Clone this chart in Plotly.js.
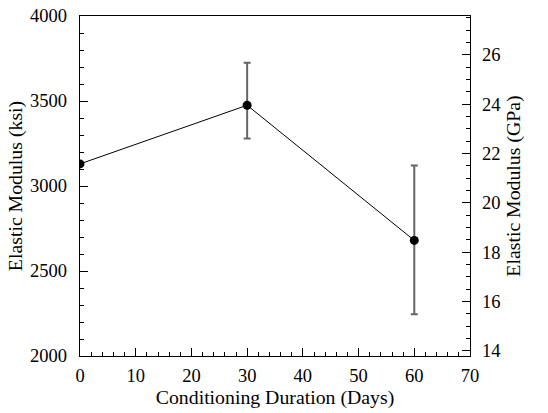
<!DOCTYPE html>
<html>
<head>
<meta charset="utf-8">
<script src="https://cdn.plot.ly/plotly-3.0.1.min.js"></script>
<style>html,body{margin:0;padding:0;background:#fff;}#chart{width:548px;height:413px;}</style>
</head>
<body>
<div id="chart"></div>
<script>
// Data
const days = [0, 30, 60];
const modulusKsi = [3130, 3475, 2680];
const errPlusKsi = [0, 250, 440];
const errMinusKsi = [0, 195, 435];
const ksiToGPa = 0.006894757;
const ksiRange = [2000, 4000];
const xTickVals = [0, 10, 20, 30, 40, 50, 60, 70];

const fam = '"Liberation Serif", "Times New Roman", serif';
const font = {family: fam, size: 18.5, color: '#000'};
const titleFont = {family: fam, size: 19.8, color: '#000'};

const traces = [
  {
    x: days, y: modulusKsi, type: 'scatter', mode: 'lines+markers',
    line: {color: '#000', width: 1},
    marker: {color: '#000', size: 9},
    error_y: {type: 'data', symmetric: false, array: errPlusKsi, arrayminus: errMinusKsi,
              color: '#666', thickness: 2, width: 3.5},
    hoverinfo: 'x+y', showlegend: false
  },
  {
    x: days, y: modulusKsi.map(v => v * ksiToGPa), yaxis: 'y2', type: 'scatter', mode: 'markers',
    marker: {opacity: 0, size: 1}, hoverinfo: 'skip', showlegend: false
  }
];

const layout = {
  width: 548, height: 413,
  margin: {l: 80, r: 78, t: 16, b: 57},
  paper_bgcolor: '#fff', plot_bgcolor: '#fff',
  font: font,
  showlegend: false,
  xaxis: {
    range: [0, 70], tickvals: xTickVals, ticks: 'inside', ticklen: 8, tickwidth: 1, tickcolor: '#000',
    minor: {dtick: 2, ticks: 'inside', ticklen: 4, tickcolor: '#000', showgrid: false},
    showgrid: false, zeroline: false, showline: true, linecolor: '#000', linewidth: 1.2, mirror: true,
    tickfont: font, ticklabelstandoff: 3,
    title: {text: 'Conditioning Duration (Days)', font: titleFont, standoff: 3}
  },
  yaxis: {
    range: ksiRange, dtick: 500, ticks: 'inside', ticklen: 8, tickwidth: 1, tickcolor: '#000',
    minor: {dtick: 100, ticks: 'inside', ticklen: 4, tickcolor: '#000', showgrid: false},
    showgrid: false, zeroline: false, showline: true, linecolor: '#000', linewidth: 1.2,
    tickfont: font, ticklabelstandoff: 8,
    title: {text: 'Elastic Modulus (ksi)', font: titleFont, standoff: 2}
  },
  yaxis2: {
    overlaying: 'y', side: 'right', anchor: 'x',
    range: [ksiRange[0] * ksiToGPa, ksiRange[1] * ksiToGPa],
    tick0: 14, dtick: 2, ticks: 'inside', ticklen: 8, tickwidth: 1, tickcolor: '#000',
    minor: {dtick: 0.5, ticks: 'inside', ticklen: 4, tickcolor: '#000', showgrid: false},
    showgrid: false, zeroline: false, showline: true, linecolor: '#000', linewidth: 1.2,
    tickfont: font, ticklabelstandoff: 7,
    title: {text: 'Elastic Modulus (GPa)', font: titleFont, standoff: 6}
  }
};

Plotly.newPlot('chart', traces, layout, {displayModeBar: false, staticPlot: true});
</script>
</body>
</html>
